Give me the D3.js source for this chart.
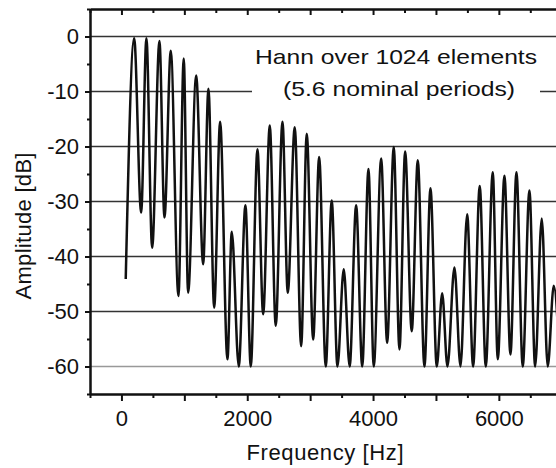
<!DOCTYPE html>
<html>
<head>
<meta charset="utf-8">
<script src="https://cdn.jsdelivr.net/npm/d3@7"></script>
<style>
  body { margin: 0; background: #fff; }
  text { font-family: "Liberation Sans", Arial, sans-serif; fill: #111; }
</style>
</head>
<body>
<svg class="spectrum"></svg>
<script>
// values (local maxima / minima of the trace)
var freqs = [68, 202, 313, 397, 488, 604, 684, 784, 906, 990, 1060, 1188, 1299, 1383, 1474, 1569,
  1685, 1754, 1865, 1971, 2056, 2162, 2253, 2358, 2453, 2560, 2644, 2755, 2857, 2946, 3048, 3143,
  3248, 3343, 3434, 3534, 3628, 3731, 3828, 3927, 4011, 4129, 4224, 4329, 4420, 4510, 4615, 4711,
  4817, 4913, 5013, 5099, 5183, 5294, 5390, 5496, 5591, 5696, 5792, 5903, 5983, 6089, 6184, 6280,
  6380, 6486, 6577, 6682, 6777, 6873, 6970];
var amps = [-44.1, -0.3, -32.0, -0.3, -38.4, -0.8, -32.9, -2.6, -47.2, -4.0, -46.6, -7.1, -41.4, -9.5, -49.3, -15.5,
  -58.7, -35.5, -60, -30.7, -60, -20.5, -50.5, -16.2, -52.6, -15.5, -46.6, -16.5, -56.3, -17.7, -55.1, -21.9,
  -60, -29.8, -60, -42.3, -60, -30.7, -60, -24.1, -60, -22.2, -55.7, -20.1, -56.9, -20.9, -53.6, -22.5,
  -60, -27.6, -60, -46.7, -60, -42.0, -60, -32.3, -60, -27.2, -60, -24.7, -58.7, -25.3, -57.8, -24.7,
  -60, -28.0, -60, -33.1, -60, -45.3, -60];

var yTicks = [0, -10, -20, -30, -40, -50, -60];
var xTicks = [0, 2000, 4000, 6000];
var noteLines = ["Hann over 1024 elements", "(5.6 nominal periods)"];

var data = freqs.map((f, i) => ({f: f, v: amps[i]}));

var width = 556, height = 468;
var plotLeft = 90, plotTop = 9, plotBottom = 394;

var x = d3.scaleLinear().domain([-500, 8000]).range([plotLeft, plotLeft + 8500 * 0.0629]);
var y = d3.scaleLinear().domain([-65, 5]).range([plotBottom, plotTop]);

var chart = d3.select(".spectrum")
    .attr("width", width)
    .attr("height", height);

// horizontal grid
chart.append("g").selectAll("line")
    .data(yTicks)
  .enter().append("line")
    .attr("x1", plotLeft).attr("x2", width)
    .attr("y1", d => y(d)).attr("y2", d => y(d))
    .attr("stroke", d => d == -60 ? "#999" : "#333")
    .attr("stroke-width", 1.4);

// label box hides the -10 grid line
chart.append("rect")
    .attr("x", 252).attr("y", 42)
    .attr("width", 288).attr("height", 70)
    .attr("fill", "#fff");

chart.append("g").selectAll("text")
    .data(noteLines)
  .enter().append("text")
    .attr("x", (d, i) => i == 0 ? 255 : 283)
    .attr("y", (d, i) => i == 0 ? 64 : 96)
    .attr("font-size", 21)
    .attr("textLength", (d, i) => i == 0 ? 282 : 232)
    .attr("lengthAdjust", "spacingAndGlyphs")
    .text(d => d);

// trace
var line = d3.line()
    .x(d => x(d.f))
    .y(d => y(d.v))
    .curve(d3.curveMonotoneX);

chart.append("path")
    .datum(data)
    .attr("d", line)
    .attr("fill", "none")
    .attr("stroke", "#111")
    .attr("stroke-width", 2.5)
    .attr("stroke-linejoin", "round");

// axes
var styleAxis = g => {
  g.selectAll("line").attr("stroke", "#111").attr("stroke-width", 2);
  g.selectAll(".domain").attr("stroke", "#111").attr("stroke-width", 2);
  g.selectAll("text").attr("font-size", 22).attr("fill", "#111")
    .attr("font-family", "'Liberation Sans', Arial, sans-serif");
};

chart.append("g")
    .attr("transform", `translate(0,${plotBottom})`)
    .call(d3.axisBottom(x).tickValues(d3.range(0, 8001, 1000)).tickSize(7).tickSizeOuter(0).tickPadding(9)
      .tickFormat(d => xTicks.includes(d) ? String(d) : ""))
    .call(styleAxis);

chart.append("g")
    .attr("transform", `translate(0,${plotBottom})`)
    .call(d3.axisBottom(x).tickValues(d3.range(-500, 8001, 1000)).tickSize(4).tickSizeOuter(0).tickFormat(""))
    .call(styleAxis);

chart.append("g")
    .attr("transform", `translate(0,${plotTop})`)
    .call(d3.axisBottom(x).tickValues(d3.range(0, 8001, 1000)).tickSize(6).tickSizeOuter(0).tickFormat(""))
    .call(styleAxis);

chart.append("g")
    .attr("transform", `translate(0,${plotTop})`)
    .call(d3.axisBottom(x).tickValues(d3.range(-500, 8001, 1000)).tickSize(4).tickSizeOuter(0).tickFormat(""))
    .call(styleAxis);

chart.append("g")
    .attr("transform", `translate(${plotLeft},0)`)
    .call(d3.axisLeft(y).tickValues(yTicks).tickSize(5).tickSizeOuter(0).tickPadding(6)
      .tickFormat(d => String(d)))
    .call(styleAxis);

chart.append("g")
    .attr("transform", `translate(${plotLeft},0)`)
    .call(d3.axisLeft(y).tickValues(d3.range(-65, 6, 10)).tickSize(3).tickSizeOuter(0).tickFormat(""))
    .call(styleAxis);

chart.append("text")
    .attr("x", 325).attr("y", 460)
    .attr("text-anchor", "middle")
    .attr("font-size", 22)
    .attr("textLength", 157)
    .text("Frequency [Hz]");

chart.append("text")
    .attr("transform", "translate(31,226) rotate(-90)")
    .attr("text-anchor", "middle")
    .attr("font-size", 22)
    .attr("textLength", 147)
    .text("Amplitude [dB]");
</script>
</body>
</html>
